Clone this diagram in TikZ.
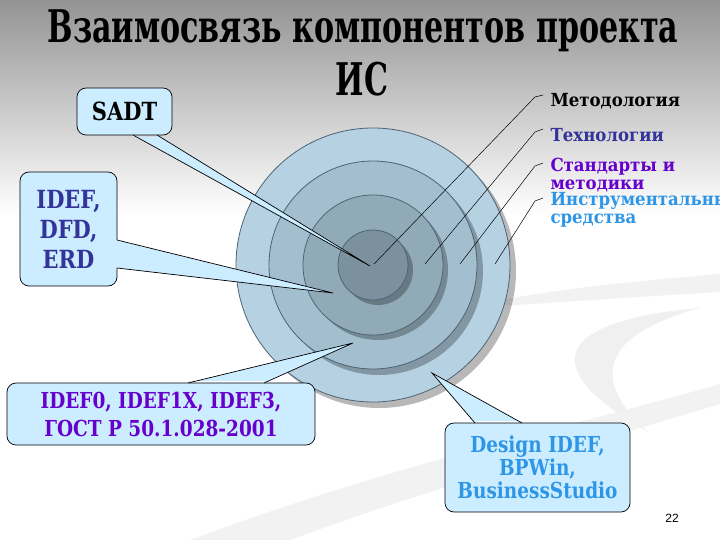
\documentclass[tikz,border=0pt]{standalone}
\usepackage{fontspec}
\setmainfont{DejaVu Serif}
\setsansfont{Liberation Sans}
\newfontfamily\narrowserif[FakeStretch=0.67]{DejaVu Serif}
\newfontfamily\boxserif[FakeStretch=0.84]{DejaVu Serif}
\newfontfamily\labelserif[FakeStretch=0.92]{DejaVu Serif}

\definecolor{bubble}{HTML}{CCECFF}
\definecolor{ringA}{HTML}{B6D1E2}
\definecolor{ringB}{HTML}{A3BFCF}
\definecolor{ringC}{HTML}{90AAB8}
\definecolor{ringD}{HTML}{7B919D}
\definecolor{ringline}{HTML}{4E6474}
\definecolor{navytext}{HTML}{333399}
\definecolor{violettext}{HTML}{6600CC}
\definecolor{skytext}{HTML}{2E96E6}

\begin{document}
\begin{tikzpicture}[x=1pt,y=-1pt,
    callout/.style={draw=black,fill=bubble,rounded corners=9pt,line width=0.7pt,
      align=center,inner sep=0pt,font=\boxserif\bfseries\fontsize{22}{28}\selectfont},
    wedge/.style={fill=bubble},
    wedgeline/.style={draw=black,line width=0.7pt},
    ring/.style={draw=ringline,line width=0.8pt},
    ringshadow/.style={fill=black,fill opacity=0.28},
    leader/.style={draw=black,line width=0.5pt},
    layer/.style={anchor=west,align=left,font=\labelserif\bfseries\fontsize{18}{18}\selectfont}]

	% background
	\useasboundingbox (0,0) rectangle (720,540);
	\fill[white] (0,0) rectangle (720,540);
	\shade[top color=black!42,bottom color=white] (0,0) rectangle (720,215);
	\fill[black!5] (500,300) .. controls (580,286) and (650,280) .. (720,274)
		-- (720,292) .. controls (650,296) and (580,301) .. (500,306) -- cycle;
	\fill[black!6] (700,308) .. controls (560,320) and (530,365) .. (648,432)
		.. controls (590,380) and (600,335) .. (700,308) -- cycle;
	\fill[black!5] (190,540) .. controls (400,462) and (560,430) .. (720,384)
		-- (720,404) .. controls (560,452) and (420,492) .. (290,540) -- cycle;

	% title
	\node[font=\narrowserif\bfseries\fontsize{45}{45}\selectfont] (title1) at (363,31) {Взаимосвязь компонентов проекта};
	\node[font=\narrowserif\bfseries\fontsize{45}{45}\selectfont] (title2) at (362,79) {ИС};

	% rings
	\coordinate (c) at (373,265);
	\fill[ringshadow] ([shift={(6,6)}]c) circle[radius=137];
	\filldraw[ring,fill=ringA] (c) circle[radius=137];
	\fill[ringshadow] ([shift={(6,6)}]c) circle[radius=104];
	\filldraw[ring,fill=ringB] (c) circle[radius=104];
	\fill[ringshadow] ([shift={(5,5)}]c) circle[radius=70];
	\filldraw[ring,fill=ringC] (c) circle[radius=70];
	\fill[ringshadow] ([shift={(5,5)}]c) circle[radius=35];
	\filldraw[ring,fill=ringD] (c) circle[radius=35];

	% labels on the right
	\node[layer] (lblM) at (547,101) {Методология};
	\node[layer,text=navytext] (lblT) at (547,135) {Технологии};
	\node[layer,text=violettext] (lblS) at (547,175) {Стандарты и\\методики};
	\node[layer,text=skytext] (lblI) at (547,210) {Инструментальные\\средства};

	\coordinate (tipM) at (374,264);
	\coordinate (tipT) at (425,264);
	\coordinate (tipS) at (460,264);
	\coordinate (tipI) at (495,264);
	\coordinate (bendM) at (535,97);  \coordinate (endM) at (543,95);
	\coordinate (bendT) at (535,132); \coordinate (endT) at (543,129);
	\coordinate (bendS) at (535,166); \coordinate (endS) at (543,163);
	\coordinate (bendI) at (535,201); \coordinate (endI) at (543,198);
	\draw[leader] (tipM) -- (bendM) -- (endM);
	\draw[leader] (tipT) -- (bendT) -- (endT);
	\draw[leader] (tipS) -- (bendS) -- (endS);
	\draw[leader] (tipI) -- (bendI) -- (endI);

	% callouts
	\node[callout,minimum width=95,minimum height=47,font=\boxserif\bfseries\fontsize{25}{29}\selectfont] (sadt) at (124.5,111.5) {SADT};
	\node[callout,minimum width=97,minimum height=114,text=navytext,font=\boxserif\bfseries\fontsize{25}{30}\selectfont] (idef) at (68.5,229) {IDEF,\\DFD,\\ERD};
	\node[callout,minimum width=308,minimum height=62,text=violettext] (std) at (161,414) {IDEF0, IDEF1X, IDEF3,\\ГОСТ Р 50.1.028-2001};
	\node[callout,minimum width=185,minimum height=89,text=skytext,font=\boxserif\bfseries\fontsize{22}{23}\selectfont] (tools) at (537.5,467.5) {Design IDEF,\\BPWin,\\BusinessStudio};

	% SADT pointer
	\coordinate (sadtA) at (133,135); \coordinate (sadtB) at (157,135);
	\coordinate (sadtTip) at (370,266);
	\fill[wedge] ([yshift=-2]sadtA) -- (sadtA) -- (sadtTip) -- (sadtB) -- ([yshift=-2]sadtB) -- cycle;
	\draw[wedgeline] (sadtA) -- (sadtTip) -- (sadtB);

	% IDEF pointer
	\coordinate (idefA) at (117,240); \coordinate (idefB) at (117,268);
	\coordinate (idefTip) at (333,293);
	\fill[wedge] ([xshift=-2]idefA) -- (idefA) -- (idefTip) -- (idefB) -- ([xshift=-2]idefB) -- cycle;
	\draw[wedgeline] (idefA) -- (idefTip) -- (idefB);

	% standards pointer
	\coordinate (stdA) at (188,383); \coordinate (stdB) at (264,383);
	\coordinate (stdTip) at (353,343);
	\fill[wedge] ([yshift=2]stdA) -- (stdA) -- (stdTip) -- (stdB) -- ([yshift=2]stdB) -- cycle;
	\draw[wedgeline] (stdA) -- (stdTip) -- (stdB);

	% tools pointer
	\coordinate (toolsA) at (475,423); \coordinate (toolsB) at (522,423);
	\coordinate (toolsTip) at (432,373);
	\fill[wedge] ([yshift=2]toolsA) -- (toolsA) -- (toolsTip) -- (toolsB) -- ([yshift=2]toolsB) -- cycle;
	\draw[wedgeline] (toolsA) -- (toolsTip) -- (toolsB);

	% page number
	\node[font=\sffamily\fontsize{12}{12}\selectfont] (pnum) at (672,518) {22};
\end{tikzpicture}
\end{document}
